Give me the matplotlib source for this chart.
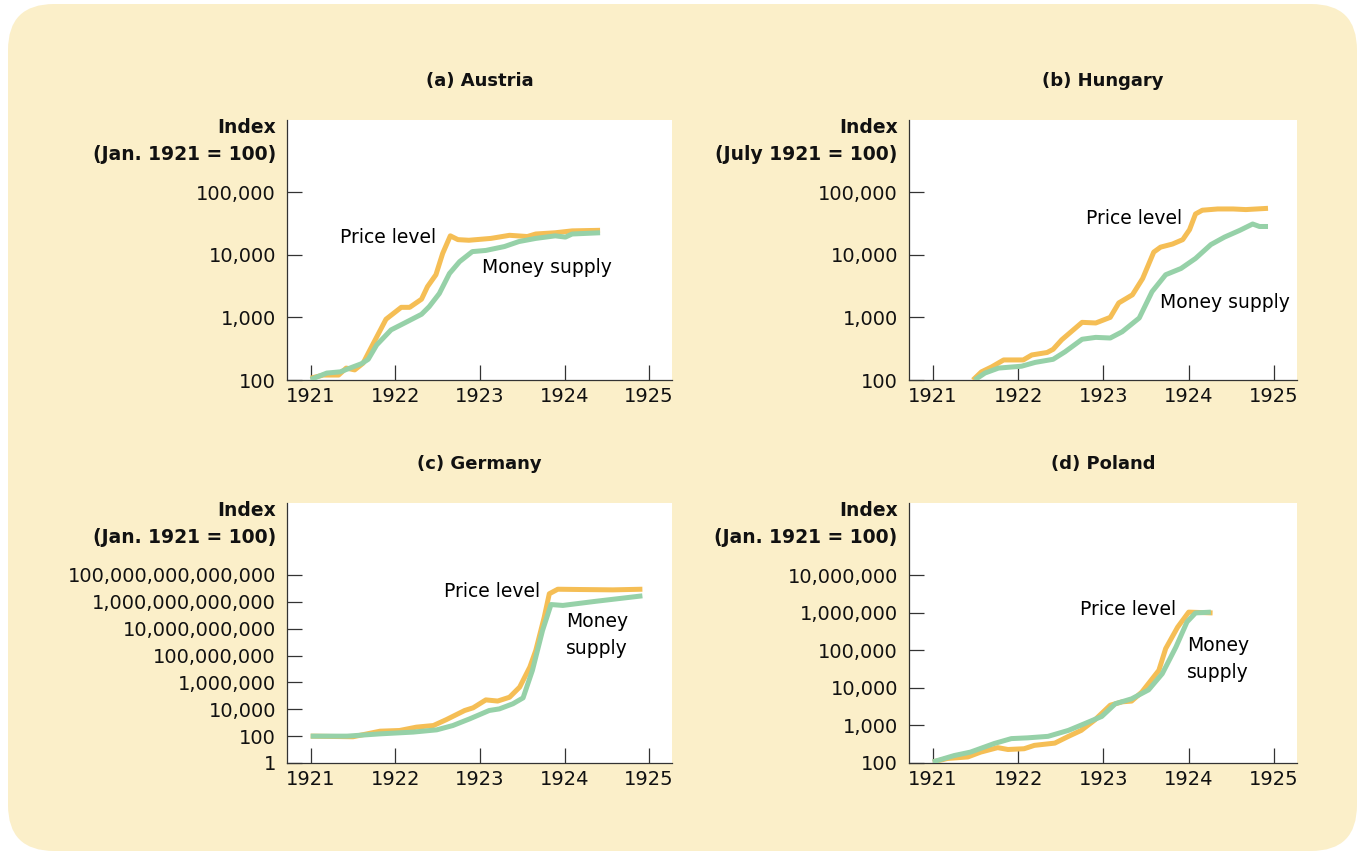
import matplotlib
matplotlib.use("Agg")
import matplotlib.pyplot as plt
from matplotlib.patches import FancyBboxPatch
from matplotlib.ticker import FixedLocator, FixedFormatter, NullLocator


# data (index values, log scale)

austria_price_years = [1921.0, 1921.15, 1921.33, 1921.42, 1921.52, 1921.62, 1921.70, 1921.89, 1922.07, 1922.17,
                       1922.31, 1922.38, 1922.48, 1922.56, 1922.65, 1922.74, 1922.87, 1923.13, 1923.35, 1923.56,
                       1923.66, 1923.89, 1924.09, 1924.42]
austria_price = [107, 120, 120, 155, 145, 186, 302, 933, 1445, 1445,
                 1950, 3090, 4790, 10500, 20000, 17400, 17000, 18200, 20400, 19500,
                 21400, 22400, 24000, 24500]
austria_money_years = [1921.0, 1921.19, 1921.35, 1921.48, 1921.60, 1921.68, 1921.78, 1921.95, 1922.11, 1922.31,
                       1922.40, 1922.52, 1922.64, 1922.76, 1922.91, 1923.07, 1923.29, 1923.46, 1923.66, 1923.89,
                       1924.01, 1924.09, 1924.42]
austria_money = [102, 129, 135, 158, 182, 214, 363, 631, 813, 1120,
                 1480, 2400, 5010, 7760, 11200, 11700, 13500, 16200, 18200, 20000,
                 19100, 21400, 22400]

hungary_price_years = [1921.47, 1921.57, 1921.69, 1921.83, 1922.06, 1922.16, 1922.34, 1922.41, 1922.51, 1922.75,
                       1922.91, 1923.08, 1923.18, 1923.34, 1923.46, 1923.59, 1923.67, 1923.81, 1923.93, 1924.01,
                       1924.08, 1924.16, 1924.34, 1924.52, 1924.67, 1924.93]
hungary_price = [100, 135, 162, 209, 209, 251, 275, 309, 437, 832,
                 813, 1000, 1700, 2290, 4170, 11000, 13200, 14800, 17400, 25100,
                 44700, 51300, 53700, 53700, 52500, 55000]
hungary_money_years = [1921.49, 1921.61, 1921.77, 1922.04, 1922.20, 1922.41, 1922.55, 1922.75, 1922.91, 1923.08,
                       1923.22, 1923.42, 1923.57, 1923.73, 1923.91, 1924.08, 1924.26, 1924.42, 1924.60, 1924.75,
                       1924.83, 1924.93]
hungary_money = [100, 129, 155, 166, 191, 214, 282, 447, 479, 468,
                 589, 977, 2570, 4790, 6030, 8710, 14500, 19100, 24500, 30900,
                 28200, 28200]

germany_price_years = [1921.0, 1921.50, 1921.82, 1922.05, 1922.25, 1922.45, 1922.60, 1922.82, 1922.92, 1923.07,
                       1923.21, 1923.35, 1923.47, 1923.59, 1923.66, 1923.76, 1923.82, 1923.92, 1924.17, 1924.57,
                       1924.92]
germany_price = [100, 90, 234, 263, 468, 617, 1660, 8130, 12900, 5.0e4,
                 4.1e4, 7.9e4, 4.5e5, 1.4e7, 2.4e8, 7.2e10, 4.0e12, 8.7e12, 8.3e12, 7.8e12,
                 8.7e12]
germany_money_years = [1921.0, 1921.43, 1921.82, 1922.21, 1922.49, 1922.68, 1922.88, 1923.11, 1923.23, 1923.39,
                       1923.51, 1923.62, 1923.74, 1923.84, 1923.98, 1924.37, 1924.92]
germany_money = [100, 100, 148, 200, 295, 617, 1950, 8130, 10700, 25700,
                 70800, 7.8e6, 7.4e9, 6.3e11, 5.4e11, 1.1e12, 2.8e12]

poland_price_years = [1921.0, 1921.17, 1921.41, 1921.56, 1921.76, 1921.88, 1922.07, 1922.19, 1922.43, 1922.59,
                      1922.74, 1922.90, 1923.08, 1923.22, 1923.33, 1923.45, 1923.65, 1923.73, 1923.87, 1924.00,
                      1924.28]
poland_price = [107, 132, 145, 195, 257, 229, 240, 295, 339, 513,
                741, 1410, 3470, 4270, 4470, 7760, 29500, 112000, 417000, 1050000,
                1000000]
poland_money_years = [1921.0, 1921.25, 1921.44, 1921.72, 1921.92, 1922.11, 1922.35, 1922.59, 1922.78, 1922.98,
                      1923.14, 1923.33, 1923.53, 1923.69, 1923.85, 1923.98, 1924.08, 1924.26]
poland_money = [107, 158, 195, 331, 447, 468, 513, 741, 1120, 1740,
                3800, 5130, 8910, 24000, 123000, 575000, 1000000, 1050000]

# ticks
year_ticks = [1921, 1922, 1923, 1924, 1925]
small_ticks = [100, 1000, 10000, 100000]
germany_ticks = [1, 1e2, 1e4, 1e6, 1e8, 1e10, 1e12, 1e14]
poland_ticks = [1e2, 1e3, 1e4, 1e5, 1e6, 1e7]

titles = ["(a) Austria", "(b) Hungary", "(c) Germany", "(d) Poland"]
base_labels = ["(Jan. 1921 = 100)", "(July 1921 = 100)", "(Jan. 1921 = 100)", "(Jan. 1921 = 100)"]

PRICE_COLOR = "#F5BE55"
MONEY_COLOR = "#96D1A8"
BG_COLOR = "#FBEFC9"
AXIS_COLOR = "#333333"

plt.rcParams["font.family"] = "DejaVu Sans"

fig = plt.figure(figsize=(13.58, 8.52), dpi=100)
fig.patch.set_facecolor("white")

# rounded beige panel behind everything
bg = FancyBboxPatch((0.08, 0.01), 13.49, 8.47,
                    boxstyle="round,pad=0,rounding_size=0.46",
                    transform=fig.dpi_scale_trans, facecolor=BG_COLOR,
                    edgecolor="none", zorder=-10)
fig.patches.append(bg)

W, H = 1358, 852
boxes = [(287, 380, 385), (909, 380, 388), (287, 763, 385), (909, 763, 388)]


def fmt(v):
    return "{:,}".format(int(round(v)))


def make_panel(i, price_x, price_y, money_x, money_y, ticks, ylim):
    left, bottom, width = boxes[i]
    ax = fig.add_axes([left / W, (H - bottom) / H, width / W, 260 / H])
    ax.set_facecolor("white")
    ax.set_yscale("log")

    ax.plot(price_x, price_y, color=PRICE_COLOR, lw=3.6, solid_capstyle="butt",
            solid_joinstyle="round", zorder=3)
    ax.plot(money_x, money_y, color=MONEY_COLOR, lw=3.6, solid_capstyle="butt",
            solid_joinstyle="round", zorder=4)

    ax.set_xlim(1920.72, 1925.27)
    ax.set_ylim(*ylim)
    ax.set_xticks(year_ticks)
    ax.set_xticklabels([str(y) for y in year_ticks])
    ax.yaxis.set_major_locator(FixedLocator(ticks))
    ax.yaxis.set_major_formatter(FixedFormatter([fmt(t) for t in ticks]))
    ax.yaxis.set_minor_locator(NullLocator())
    ax.xaxis.set_minor_locator(NullLocator())

    for side in ["top", "right"]:
        ax.spines[side].set_visible(False)
    for side in ["left", "bottom"]:
        ax.spines[side].set_color(AXIS_COLOR)
        ax.spines[side].set_linewidth(0.9)

    ax.tick_params(axis="both", direction="in", length=11, width=0.9,
                   color=AXIS_COLOR, labelsize=14, labelcolor="#111111")
    ax.tick_params(axis="y", pad=8)
    ax.tick_params(axis="x", pad=5)

    ax.text(0.5, 1.15, titles[i], transform=ax.transAxes, ha="center", va="center",
            fontsize=13, fontweight="bold", color="#111111")
    ax.text(-0.029, 0.972, "Index", transform=ax.transAxes, ha="right", va="center",
            fontsize=13.5, fontweight="bold", color="#111111")
    ax.text(-0.029, 0.866, base_labels[i], transform=ax.transAxes, ha="right", va="center",
            fontsize=13.5, fontweight="bold", color="#111111")
    return ax


ax_a = make_panel(0, austria_price_years, austria_price, austria_money_years, austria_money,
                  small_ticks, (100, 10 ** 6.15))
ax_a.text(1921.92, 10 ** 4.28, "Price level", ha="center", va="center", fontsize=13.5)
ax_a.text(1923.03, 10 ** 3.79, "Money supply", ha="left", va="center", fontsize=13.5)

ax_b = make_panel(1, hungary_price_years, hungary_price, hungary_money_years, hungary_money,
                  small_ticks, (100, 10 ** 6.15))
ax_b.text(1922.80, 10 ** 4.57, "Price level", ha="left", va="center", fontsize=13.5)
ax_b.text(1923.66, 10 ** 3.24, "Money supply", ha="left", va="center", fontsize=13.5)

ax_c = make_panel(2, germany_price_years, germany_price, germany_money_years, germany_money,
                  germany_ticks, (1, 10 ** 19.36))
ax_c.text(1923.71, 10 ** 12.8, "Price level", ha="right", va="center", fontsize=13.5)
ax_c.text(1924.02, 10 ** 9.52, "Money\nsupply", ha="left", va="center", fontsize=13.5,
          linespacing=1.55)

ax_d = make_panel(3, poland_price_years, poland_price, poland_money_years, poland_money,
                  poland_ticks, (100, 10 ** 8.93))
ax_d.text(1922.73, 10 ** 6.08, "Price level", ha="left", va="center", fontsize=13.5)
ax_d.text(1923.98, 10 ** 4.77, "Money\nsupply", ha="left", va="center", fontsize=13.5,
          linespacing=1.55)

fig.savefig("out.png", dpi=100, facecolor=fig.get_facecolor())
